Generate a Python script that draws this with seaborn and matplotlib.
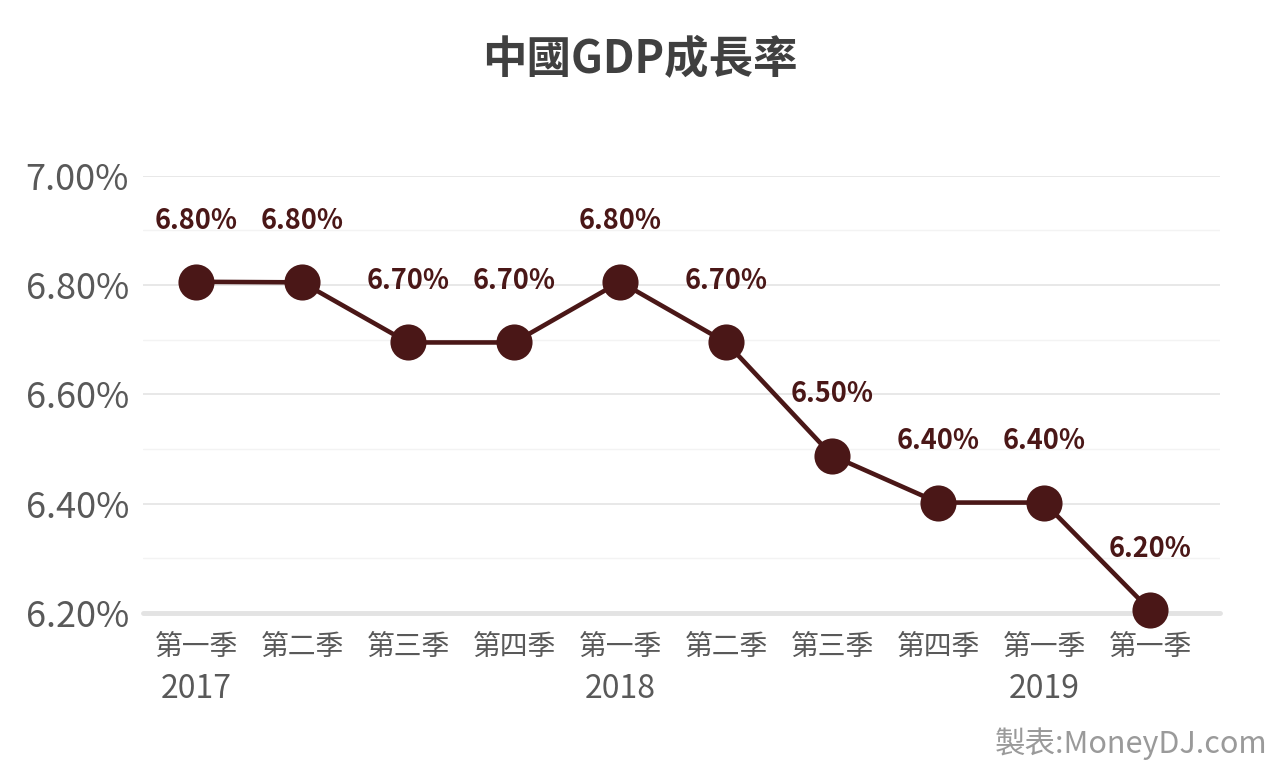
import matplotlib
matplotlib.use("Agg")
import matplotlib.pyplot as plt
import seaborn as sns
import pandas as pd
import numpy as np
from matplotlib.ticker import MultipleLocator, FuncFormatter

quarters = ["第一季", "第二季", "第三季", "第四季", "第一季", "第二季", "第三季", "第四季", "第一季", "第一季"]
years = {0: "2017", 4: "2018", 8: "2019"}
growth = [6.806, 6.805, 6.695, 6.695, 6.806, 6.695, 6.488, 6.402, 6.402, 6.205]
labels = ["6.80%", "6.80%", "6.70%", "6.70%", "6.80%", "6.70%", "6.50%", "6.40%", "6.40%", "6.20%"]

df = pd.DataFrame({"pos": np.arange(len(quarters)), "growth": growth})

sns.set_theme(style="white")
plt.rcParams['font.family'] = ['Noto Sans CJK TC', 'DejaVu Sans']

fig = plt.figure(figsize=(12.8, 7.71), dpi=100)
ax = fig.add_axes([0.1117, 0.205, 0.8415, 0.567])

color = "#4a1717"
sns.lineplot(data=df, x="pos", y="growth", ax=ax, color=color, linewidth=3.3,
             marker="o", markersize=26, markeredgewidth=0, zorder=3, clip_on=False)

ax.set_xlim(-0.5, 9.66)
ax.set_ylim(6.2, 7.0)
ax.yaxis.set_major_locator(MultipleLocator(0.2))
ax.yaxis.set_minor_locator(MultipleLocator(0.1))
ax.yaxis.set_major_formatter(FuncFormatter(lambda v, p: f"{v:.2f}%"))
ax.grid(axis="y", which="major", color="#e6e6e6", linewidth=1.3)
ax.grid(axis="y", which="minor", color="#f3f3f3", linewidth=1.0)
ax.grid(axis="x", visible=False)
for s in ax.spines.values():
    s.set_visible(False)
ax.axhline(6.2, color="#e3e3e3", linewidth=3.5, zorder=1, clip_on=False)

ax.set_xticks(df["pos"])
ax.set_xticklabels(quarters, fontsize=20, color="#595959")
ax.tick_params(axis="y", labelsize=26, labelcolor="#595959", length=0, pad=10)
ax.tick_params(axis="x", length=0, pad=14)
ax.tick_params(which="minor", length=0)
ax.set_xlabel("")
ax.set_ylabel("")

for p, y in years.items():
    ax.annotate(y, xy=(p, 6.2), xycoords="data", xytext=(0, -55), textcoords="offset points",
                ha="center", va="center", fontsize=23, color="#595959")

for x, v, lab in zip(df["pos"], growth, labels):
    ax.annotate(lab, xy=(x, v), xytext=(0, 44), textcoords="offset points",
                ha="center", va="center", fontsize=19.5, fontweight="bold", color=color)

fig.text(0.5, 0.922, "中國GDP成長率", ha="center", va="center", fontsize=32,
         fontweight="bold", color="#404040")
fig.text(0.99, 0.035, "製表:MoneyDJ.com", ha="right", va="center", fontsize=22, color="#9a9a9a")

fig.savefig("out.png", dpi=100, facecolor="white")
